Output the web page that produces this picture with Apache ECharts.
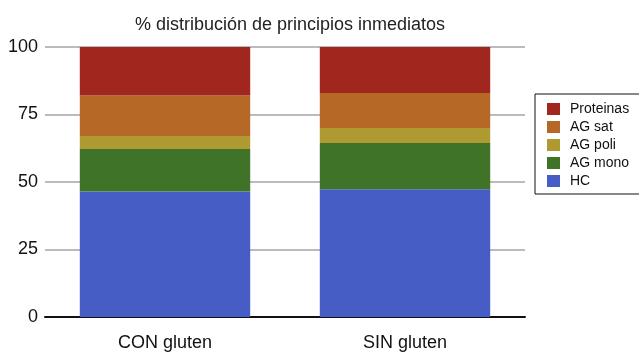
<!DOCTYPE html>
<html>
<head>
<meta charset="utf-8">
<script src="https://cdn.jsdelivr.net/npm/echarts@6/dist/echarts.min.js"></script>
<style>
html, body { margin: 0; padding: 0; background: #fff; }
#chart { width: 639px; height: 352px; }
</style>
</head>
<body>
<div id="chart"></div>
<script>
var categories = ['CON gluten', 'SIN gluten'];
var hc = [46.5, 47.3];
var agMono = [15.7, 17.1];
var agPoli = [4.8, 5.6];
var agSat = [15.0, 13.0];
var proteinas = [18.0, 17.0];
var yTicks = [0, 25, 50, 75, 100];

var font = '"Liberation Sans", Arial, sans-serif';

function stackSeries(name, data, color) {
    return {
        name: name,
        type: 'bar',
        stack: 'total',
        data: data,
        barWidth: '71%',
        itemStyle: { color: color },
        emphasis: { disabled: true }
    };
}

var myChart = echarts.init(document.getElementById('chart'));
var option = {
    animation: false,
    textStyle: { fontFamily: font },
    title: {
        text: '% distribución de principios inmediatos',
        left: 285,
        top: 11,
        textAlign: 'center',
        textStyle: { fontFamily: font, fontSize: 18, fontWeight: 'normal', color: '#222' }
    },
    legend: {
        orient: 'vertical',
        left: 535,
        top: 94,
        padding: [8, 40, 6, 12],
        borderColor: '#111',
        borderWidth: 1,
        itemWidth: 13,
        itemHeight: 12,
        itemGap: 4,
        icon: 'rect',
        data: ['Proteinas', 'AG sat', 'AG poli', 'AG mono', 'HC'],
        textStyle: { fontFamily: font, fontSize: 14, color: '#111', padding: [0, 0, 0, 5] }
    },
    grid: { left: 45, right: 114, top: 47, bottom: 35, containLabel: false },
    xAxis: {
        type: 'category',
        data: categories,
        axisLine: { lineStyle: { color: '#111', width: 2 } },
        axisTick: { show: false },
        axisLabel: { fontFamily: font, fontSize: 18, color: '#111', margin: 17 }
    },
    yAxis: {
        type: 'value',
        min: yTicks[0],
        max: yTicks[yTicks.length - 1],
        interval: 25,
        axisLine: { show: false },
        axisTick: { show: false },
        splitLine: { lineStyle: { color: '#bbb', width: 2 } },
        axisLabel: { fontFamily: font, fontSize: 18, color: '#111', margin: 7 }
    },
    series: [
        stackSeries('HC', hc, '#465dc6'),
        stackSeries('AG mono', agMono, '#3f7428'),
        stackSeries('AG poli', agPoli, '#ae9a30'),
        stackSeries('AG sat', agSat, '#b66827'),
        stackSeries('Proteinas', proteinas, '#a0261e')
    ]
};
myChart.setOption(option);
</script>
</body>
</html>
